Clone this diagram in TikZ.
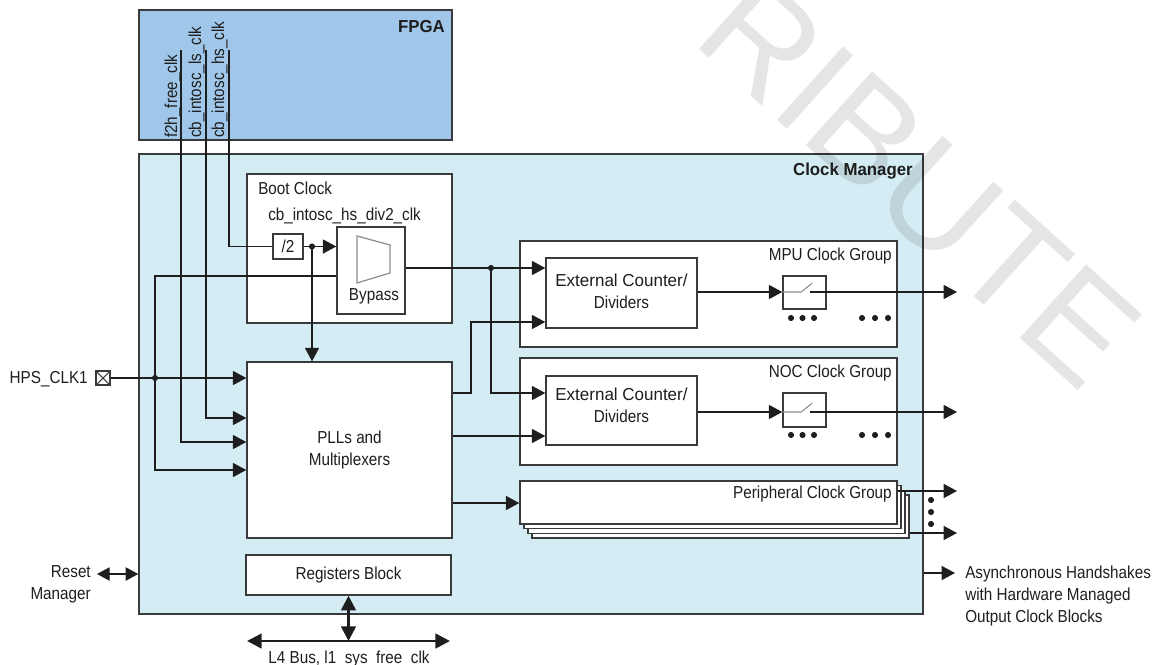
\documentclass[tikz,border=0pt]{standalone}
\usepackage{fontspec}
\setmainfont{Liberation Sans}[FakeStretch=0.88]
\newfontfamily\headfont{Liberation Sans}[FakeStretch=0.97]
\newfontfamily\wideface{Liberation Sans}[FakeStretch=0.98]
\newfontfamily\markfont{Liberation Sans}
\usetikzlibrary{arrows.meta,fit}

\definecolor{fpgafill}{HTML}{A0C7E9}
\definecolor{cmfill}{HTML}{D4ECF3}
\definecolor{edge}{HTML}{3A3A3A}
\definecolor{ink}{HTML}{1E1E1E}
\definecolor{muxgray}{HTML}{8C8C8C}

\begin{document}
\begin{tikzpicture}[x=0.75pt,y=-0.75pt,
  every node/.style={inner sep=0pt, text=ink, font=\fontsize{13}{16.5}\selectfont},
  blk/.style={draw=edge, line width=1.1pt, fill=white, inner sep=0pt},
  head/.style={font=\headfont\bfseries\fontsize{13}{16}\selectfont},
  wire/.style={draw=ink, line width=0.95pt},
  arr/.style={wire, -{Triangle[length=10pt,width=10.5pt]}},
  dbl/.style={wire, {Triangle[length=9.5pt,width=10pt]}-{Triangle[length=9.5pt,width=10pt]}},
  busline/.style={draw=ink, line width=2pt, {Triangle[length=11pt,width=11pt]}-{Triangle[length=11pt,width=11pt]}},
  swline/.style={draw=muxgray, line width=0.8pt}]
\useasboundingbox (0,0) rectangle (1156,664);

% ---------- FPGA ----------
\node[blk, fill=fpgafill, fit={(139,10) (452,140)}] (fpga) {};
\node[head, anchor=base east] (fpgalbl) at (445,32) {FPGA};
\node[rotate=90, anchor=base west] (s1) at (177,138) {f2h\_free\_clk};
\node[rotate=90, anchor=base west] (s2) at (201,138) {cb\_intosc\_ls\_clk};
\node[rotate=90, anchor=base west] (s3) at (224,138) {cb\_intosc\_hs\_clk};
\coordinate (fa) at (181,50);
\coordinate (fb) at (206,50);
\coordinate (fc) at (229,50);

% ---------- Clock Manager ----------
\node[blk, fill=cmfill, fit={(139,154) (923,614)}] (cm) {};
\node[head, anchor=base east] (cmlbl) at (913,175) {Clock Manager};

% Boot clock
\node[blk, fit={(247,174) (452,323)}] (boot) {};
\node[anchor=base west] (bootlbl) at (258,194) {Boot Clock};
\node[anchor=base west] (divlbl) at (268,220) {cb\_intosc\_hs\_div2\_clk};
\node[blk, fit={(273,234) (303,259)}] (div) {};
\node (divtxt) at (div.center) {/2};
\node[blk, fit={(337,227) (405,314)}] (byp) {};
\draw[muxgray, line width=0.9pt] (357,236) -- (390,245) -- (390,273) -- (357,283) -- cycle;
\node[anchor=base] (byptxt) at (374,300) {Bypass};

% PLLs
\node[blk, fit={(247,362) (452,538)}] (pll) {};
\node[align=center] (plltxt) at (pll.center) {PLLs and\\Multiplexers};

% MPU clock group
\node[blk, fit={(520,241) (897,347)}] (mpu) {};
\node[anchor=base east] (mpulbl) at (892,260) {MPU Clock Group};
\node[blk, fit={(546,258) (697,328)}] (mcnt) {};
\node[align=center] (mcnttxt) at (621.5,291.5) {{\wideface External Counter/}\\Dividers};
\node[blk, fit={(783,276) (826,309)}] (msw) {};

% NOC clock group
\node[blk, fit={(520,358) (897,465)}] (noc) {};
\node[anchor=base east] (noclbl) at (892,377) {NOC Clock Group};
\node[blk, fit={(546,376) (697,445)}] (ncnt) {};
\node[align=center] (ncnttxt) at (621.5,405.5) {{\wideface External Counter/}\\Dividers};
\node[blk, fit={(783,393) (826,427)}] (nsw) {};

% Peripheral clock group (stacked)
\node[blk, fit={(532,495) (909,538)}] (per3) {};
\node[blk, fit={(528,490.3) (905,533.3)}] (per2) {};
\node[blk, fit={(524,485.7) (901,528.7)}] (per1) {};
\node[blk, fit={(520,481) (897,524)}] (per) {};
\node[anchor=base east] (perlbl) at (892,498) {Peripheral Clock Group};

% Registers
\node[blk, fit={(246,555) (451,595)}] (regs) {};
\node (regstxt) at (regs.center) {Registers Block};

% HPS clock pin
\node[draw=edge, line width=0.8pt, fill=white, fit={(96,371) (110,385)}] (hps) {};
\draw[edge, line width=0.8pt] (hps.north west) -- (hps.south east) (hps.north east) -- (hps.south west);
\node[anchor=base east] (hpslbl) at (88,383) {HPS\_CLK1};

% ---------- wiring ----------
\draw[arr] (fa) |- (pll.west |- 0,442);
\draw[arr] (fb) |- (pll.west |- 0,418);
\draw[wire] (fc) |- (div.west);

\coordinate (jd) at (div.east -| 312,0);
\draw[arr] (div.east) -- (byp.west |- div.east);
\draw[arr] (jd) -- (pll.north -| jd);
\fill[ink] (jd) circle (2.3pt);

\coordinate (jh) at (hps.east -| 155,0);
\draw[arr] (hps.east) -- (pll.west |- hps.east);
\draw[wire] (jh) |- (byp.west |- 0,276);
\draw[arr] (jh) |- (pll.west |- 0,470);
\fill[ink] (jh) circle (2.3pt);

\coordinate (jb) at (491,268);
\draw[arr] (byp.east |- jb) -- (mcnt.west |- jb);
\draw[arr] (jb) |- (ncnt.west |- 0,393);
\fill[ink] (jb) circle (2.3pt);

\draw[arr] (pll.east |- 0,393) -| (471,322) -- (mcnt.west |- 0,322);
\draw[arr] (pll.east |- 0,436) -- (ncnt.west |- 0,436);
\draw[arr] (pll.east |- 0,503) -- (per.west |- 0,503);

% MPU outputs
\coordinate (mo) at (957,292);
\coordinate (mi) at (810,292);
\draw[arr] (mcnt.east |- mo) -- (msw.west |- mo);
\draw[swline] (msw.west |- mo) -- ++(19,0) -- ++(11,-9);
\draw[arr] (mi) -- (mo);
\foreach \x in {791,802.5,814,862,875,888} \fill[ink] (\x,318) circle (2.3pt);

% NOC outputs
\coordinate (no) at (957,412);
\coordinate (ni) at (810,412);
\draw[arr] (ncnt.east |- no) -- (nsw.west |- no);
\draw[swline] (nsw.west |- no) -- ++(19,0) -- ++(11,-9);
\draw[arr] (ni) -- (no);
\foreach \x in {791,802.5,814,862,875,888} \fill[ink] (\x,435) circle (2.3pt);

% Peripheral outputs
\coordinate (po1) at (957,491);
\coordinate (po2) at (957,533);
\draw[arr] (per.east |- po1) -- (po1);
\draw[arr] (per3.east |- po2) -- (po2);
\foreach \y in {500,512,524} \fill[ink] (931,\y) circle (2.3pt);

% Reset and handshakes
\coordinate (rm) at (97,574);
\draw[dbl] (rm) -- (cm.west |- rm);
\node[anchor=north east, align=right] (rmtxt) at (91,565.5) {Reset\\Manager};
\coordinate (ah) at (955,573);
\draw[arr] (cm.east |- ah) -- (ah);
\node[anchor=north west, align=left] (ahtxt) at (965,565.5) {Asynchronous Handshakes\\with Hardware Managed\\Output Clock Blocks};

% L4 bus
\coordinate (bl) at (247,641);
\coordinate (br) at (450,641);
\draw[busline] (bl) -- (br);
\draw[busline] (regs.south) -- (regs.south |- bl);
\node[anchor=base] (bustxt) at (349,663) {L4 Bus, l1\_sys\_free\_clk};

% ---------- watermark ----------
\node[rotate=-42, anchor=base east, font=\markfont\fontsize{108}{108}\selectfont, text=black, text opacity=0.1] (wm) at (1083,395) {RIBUTE};
\end{tikzpicture}
\end{document}
